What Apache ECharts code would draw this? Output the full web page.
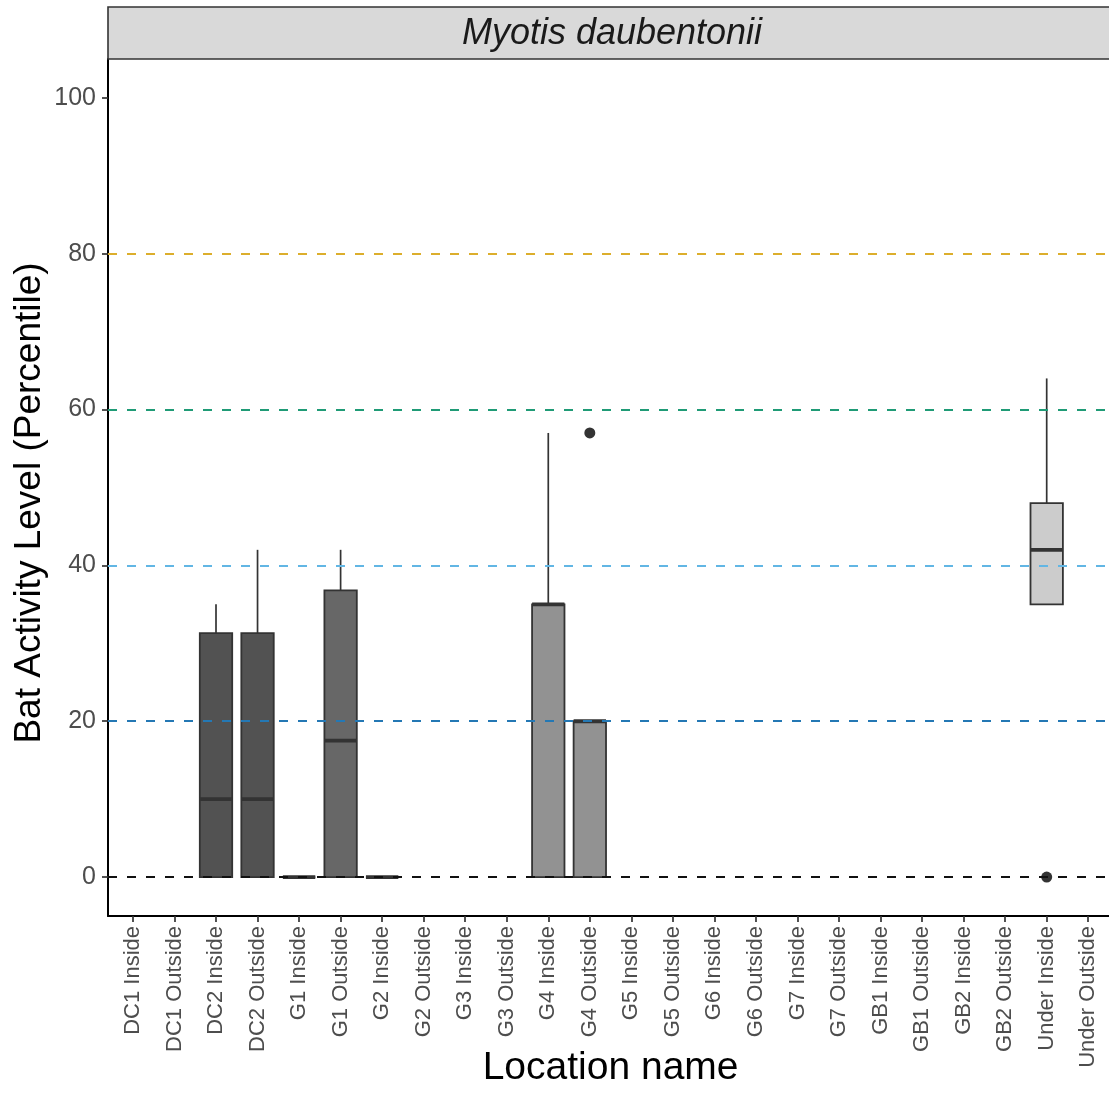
<!DOCTYPE html>
<html>
<head>
<meta charset="utf-8">
<title>Myotis daubentonii – Bat Activity Level</title>
<script src="https://cdn.jsdelivr.net/npm/echarts@6/dist/echarts.min.js"></script>
<style>
  html, body { margin: 0; padding: 0; background: #ffffff; }
  #chart { width: 1109px; height: 1115px; }
</style>
</head>
<body>
<div id="chart"></div>
<script>
// Locations, in axis order
const categories = [
  'DC1 Inside', 'DC1 Outside', 'DC2 Inside', 'DC2 Outside',
  'G1 Inside', 'G1 Outside', 'G2 Inside', 'G2 Outside',
  'G3 Inside', 'G3 Outside', 'G4 Inside', 'G4 Outside',
  'G5 Inside', 'G5 Outside', 'G6 Inside', 'G6 Outside',
  'G7 Inside', 'G7 Outside', 'GB1 Inside', 'GB1 Outside',
  'GB2 Inside', 'GB2 Outside', 'Under Inside', 'Under Outside'
];

// Box statistics per location (null = no recordings)
const lowerWhisker = [null, null, 0, 0, 0, 0, 0, null, null, null, 0, 0, null, null, null, null, null, null, null, null, null, null, 35, null];
const firstQuartile = [null, null, 0, 0, 0, 0, 0, null, null, null, 0, 0, null, null, null, null, null, null, null, null, null, null, 35, null];
const medianValue = [null, null, 10, 10, 0, 17.5, 0, null, null, null, 35, 20, null, null, null, null, null, null, null, null, null, null, 42, null];
const thirdQuartile = [null, null, 31.3, 31.3, 0, 36.8, 0, null, null, null, 35, 20, null, null, null, null, null, null, null, null, null, null, 48, null];
const upperWhisker = [null, null, 35, 42, 0, 42, 0, null, null, null, 57, 20, null, null, null, null, null, null, null, null, null, null, 64, null];

// Outlying observations: [location, value]
const outliers = [['G4 Outside', 57], ['Under Inside', 0]];

// Grey fill per location group
const groupFill = {
  DC1: '#333333', DC2: '#525252', G1: '#676767', G2: '#777777',
  G3: '#868686', G4: '#929292', G5: '#9e9e9e', G6: '#aaaaaa',
  G7: '#b4b4b4', GB1: '#bebebe', GB2: '#c5c5c5', Under: '#cccccc'
};

// Activity thresholds drawn as dashed reference lines
const thresholdValues = [0, 20, 40, 60, 80];
const thresholdColors = ['#111111', '#2478b4', '#62b6e4', '#1f9b76', '#dcae2c'];

// Y axis tick labels
const yTicks = [0, 20, 40, 60, 80, 100];

const FONT = '"Liberation Sans", Arial, sans-serif';
const PANEL_TOP = 59;
const PANEL_BOTTOM = 199;
const BAND = 41.68;
const CAT_LEFT = 108 + 0.6 * BAND - 0.5 * BAND;

const boxData = [];
categories.forEach(function (name, i) {
  if (medianValue[i] === null) return;
  const group = name.split(' ')[0];
  boxData.push({
    value: [i, lowerWhisker[i], firstQuartile[i], medianValue[i], thirdQuartile[i], upperWhisker[i]],
    itemStyle: { color: groupFill[group] }
  });
});

const outlierData = outliers.map(function (o) {
  return [categories.indexOf(o[0]), o[1]];
});

function renderBox(params, api) {
  const i = api.value(0);
  const cx = api.coord([i, 0])[0];
  const bw = api.size([1, 0])[0] * 0.78;
  const yLo = api.coord([i, api.value(1)])[1];
  const yQ1 = api.coord([i, api.value(2)])[1];
  const yMed = api.coord([i, api.value(3)])[1];
  const yQ3 = api.coord([i, api.value(4)])[1];
  const yHi = api.coord([i, api.value(5)])[1];
  const stroke = '#333333';
  return {
    type: 'group',
    children: [
      { type: 'line', shape: { x1: cx, y1: yQ3, x2: cx, y2: yHi }, style: { stroke: stroke, lineWidth: 1.7 } },
      { type: 'line', shape: { x1: cx, y1: yQ1, x2: cx, y2: yLo }, style: { stroke: stroke, lineWidth: 1.7 } },
      { type: 'rect', shape: { x: cx - bw / 2, y: yQ3, width: bw, height: yQ1 - yQ3 },
        style: { fill: api.visual('color'), stroke: stroke, lineWidth: 1.8 } },
      { type: 'line', shape: { x1: cx - bw / 2, y1: yMed, x2: cx + bw / 2, y2: yMed },
        style: { stroke: stroke, lineWidth: 3.8 } }
    ]
  };
}

const chart = echarts.init(document.getElementById('chart'), null, { renderer: 'canvas' });

chart.setOption({
  animation: false,
  backgroundColor: '#ffffff',
  textStyle: { fontFamily: FONT },
  grid: [
    { left: 108, right: -8, top: PANEL_TOP, bottom: PANEL_BOTTOM, containLabel: false },
    { left: CAT_LEFT, width: BAND * categories.length, top: PANEL_TOP, bottom: PANEL_BOTTOM, containLabel: false }
  ],
  xAxis: [
    {
      gridIndex: 0, type: 'value', min: 0, max: 1, position: 'bottom',
      axisLine: { show: true, onZero: false, lineStyle: { color: '#000000', width: 2 } },
      axisTick: { show: false }, axisLabel: { show: false }, splitLine: { show: false }
    },
    {
      gridIndex: 1, type: 'category', data: categories, boundaryGap: true, position: 'bottom',
      axisLine: { show: false, onZero: false },
      axisTick: { show: true, alignWithLabel: true, length: 6, lineStyle: { color: '#333333', width: 1.7 } },
      axisLabel: { interval: 0, rotate: 90, fontSize: 22, color: '#4d4d4d', margin: 10, fontFamily: FONT },
      splitLine: { show: false },
      name: 'Location name', nameLocation: 'middle', nameGap: 133, nameMoveOverlap: false,
      nameTextStyle: { fontSize: 39, color: '#000000', fontFamily: FONT }
    }
  ],
  yAxis: [
    {
      gridIndex: 0, type: 'value', min: -5, max: 105, position: 'left',
      axisLine: { show: true, onZero: false, lineStyle: { color: '#000000', width: 2 } },
      axisTick: { show: true, customValues: yTicks, length: 6, lineStyle: { color: '#333333', width: 1.7 } },
      axisLabel: { customValues: yTicks, fontSize: 25, color: '#4d4d4d', margin: 12, fontFamily: FONT },
      splitLine: { show: false }
    },
    {
      gridIndex: 1, type: 'value', min: -5, max: 105, show: false
    }
  ],
  series: [
    {
      type: 'line', xAxisIndex: 0, yAxisIndex: 0, data: [], silent: true, z: 1,
      markLine: {
        silent: true, symbol: ['none', 'none'], animation: false,
        label: { show: false },
        data: thresholdValues.map(function (v, k) {
          return { yAxis: v, lineStyle: { color: thresholdColors[k], type: [9, 10], width: 2 } };
        })
      }
    },
    {
      type: 'custom', xAxisIndex: 1, yAxisIndex: 1, z: 3,
      renderItem: renderBox,
      encode: { x: 0, y: [1, 2, 3, 4, 5] },
      data: boxData
    },
    {
      type: 'scatter', xAxisIndex: 1, yAxisIndex: 1, z: 4,
      symbol: 'circle', symbolSize: 11,
      itemStyle: { color: '#333333', opacity: 1 },
      data: outlierData
    }
  ],
  graphic: [
    {
      type: 'rect', z: 10,
      shape: { x: 108, y: 7, width: 1012, height: 52 },
      style: { fill: '#d9d9d9', stroke: '#333333', lineWidth: 1.6 }
    },
    {
      type: 'text', z: 11,
      x: 612, y: 34,
      style: {
        text: 'Myotis daubentonii', fontSize: 36, fontStyle: 'italic',
        fontFamily: FONT, fill: '#1a1a1a', align: 'center', verticalAlign: 'middle'
      }
    },
    {
      // y-axis title
      type: 'text', z: 11,
      x: 30, y: 503, rotation: Math.PI / 2,
      style: {
        text: 'Bat Activity Level (Percentile)', fontSize: 37,
        fontFamily: FONT, fill: '#000000', align: 'center', verticalAlign: 'middle'
      }
    }
  ]
});
</script>
</body>
</html>
